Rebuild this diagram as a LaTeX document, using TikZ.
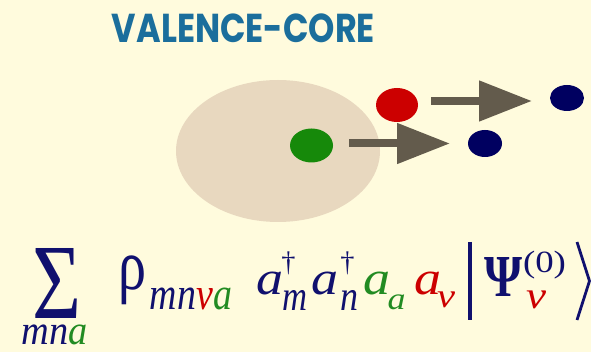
\documentclass[tikz,border=0pt]{standalone}
\usepackage{fontspec}
\usepackage{graphicx}
\setmainfont{Liberation Serif}
\newfontfamily\titlefont{Poppins}
\usetikzlibrary{arrows.meta,shapes.geometric}
\definecolor{bgcream}{RGB}{255,251,221}
\definecolor{titleblue}{RGB}{27,110,156}
\definecolor{coretan}{RGB}{232,216,191}
\definecolor{dotgreen}{RGB}{22,137,10}
\definecolor{dotred}{RGB}{204,0,0}
\definecolor{dotnavy}{RGB}{0,0,96}
\definecolor{arrowgray}{RGB}{99,91,76}
\definecolor{fnavy}{RGB}{16,16,110}
\definecolor{fred}{RGB}{204,0,0}
\definecolor{fgreen}{RGB}{34,139,34}
\newcommand{\rsfit}[3]{\resizebox*{#1}{#2}{#3}}
\begin{document}
\begin{tikzpicture}[x=1pt,y=-1pt,
  glyph/.style={inner sep=0pt, outer sep=0pt, anchor=center},
  dot/.style={ellipse, inner sep=0pt, outer sep=0pt},
  bigarrow/.style={draw=arrowgray, line width=8pt, -{Triangle[length=53pt,width=39pt]}}]
\useasboundingbox[fill=bgcream] (0,0) rectangle (591,352);
% title
\node[glyph, text=titleblue] (title) at (243.5,28.5) {\rsfit{263pt}{29pt}{\titlefont\bfseries VALENCE-CORE}};
% core
\fill[coretan] (278,151) ellipse [x radius=102, y radius=71];
% particles
\node[dot, fill=dotgreen, minimum width=43pt, minimum height=34pt] (green) at (311.5,145.5) {};
\node[dot, fill=dotred, minimum width=42pt, minimum height=34pt] (red) at (397,105) {};
\node[dot, fill=dotnavy, minimum width=34pt, minimum height=27pt] (navyA) at (485,143.5) {};
\node[dot, fill=dotnavy, minimum width=34pt, minimum height=26pt] (navyB) at (567,98) {};
% arrows
\draw[bigarrow, shorten <=16pt, shorten >=18pt] ([yshift=2pt]green.east) -- (navyA.west);
\draw[bigarrow, shorten <=13pt, shorten >=18pt] ([yshift=4pt]red.east) -- ([yshift=-3pt]navyB.west);
% formula
\node[glyph, text=fnavy] (sum) at (56.5,283) {\rsfit{49pt}{70pt}{Σ}};
\node[glyph] (sumidx) at (55,335) {\rsfit{66pt}{20pt}{\itshape\color{fnavy}mn\color{fgreen}a}};
\node[glyph, text=fnavy] (rho) at (132,280.5) {\rsfit{28pt}{49pt}{ρ}};
\node[glyph] (rhoidx) at (191,299) {\rsfit{82pt}{22pt}{\itshape\color{fnavy}mn\color{fred}v\color{fgreen}a}};
\node[glyph, text=fnavy] (am) at (270,283.5) {\rsfit{27pt}{23pt}{\itshape a}};
\node[glyph, text=fnavy] (dagm) at (288.5,263.5) {\rsfit{!}{23pt}{†}};
\node[glyph, text=fnavy] (msub) at (294.5,300) {\rsfit{25pt}{20pt}{\itshape m}};
\node[glyph, text=fnavy] (an) at (325,283.5) {\rsfit{27pt}{23pt}{\itshape a}};
\node[glyph, text=fnavy] (dagn) at (347.5,263.5) {\rsfit{!}{23pt}{†}};
\node[glyph, text=fnavy] (nsub) at (349,300) {\rsfit{18pt}{20pt}{\itshape n}};
\node[glyph, text=fgreen] (aa) at (377,283.5) {\rsfit{27pt}{23pt}{\itshape a}};
\node[glyph, text=fgreen] (asub) at (396.5,302.5) {\rsfit{18pt}{15pt}{\itshape a}};
\node[glyph, text=fred] (av) at (428,283.5) {\rsfit{27pt}{23pt}{\itshape a}};
\node[glyph, text=fred] (vsub) at (446,300) {\rsfit{18pt}{16pt}{\itshape v}};
\draw[fnavy, line width=3.2pt] (470,242) -- (470,320);
\node[glyph, text=fnavy] (psi) at (503,276.5) {\rsfit{38pt}{39pt}{\bfseries Ψ}};
\node[glyph, text=fnavy] (psisup) at (544.5,265) {\rsfit{43pt}{28pt}{(0)}};
\node[glyph, text=fred] (psisub) at (536,300) {\rsfit{20pt}{18pt}{\itshape v}};
\draw[fnavy, line width=2.8pt, line join=miter] (577,242) -- (589.5,281) -- (577,320);
\end{tikzpicture}
\end{document}
